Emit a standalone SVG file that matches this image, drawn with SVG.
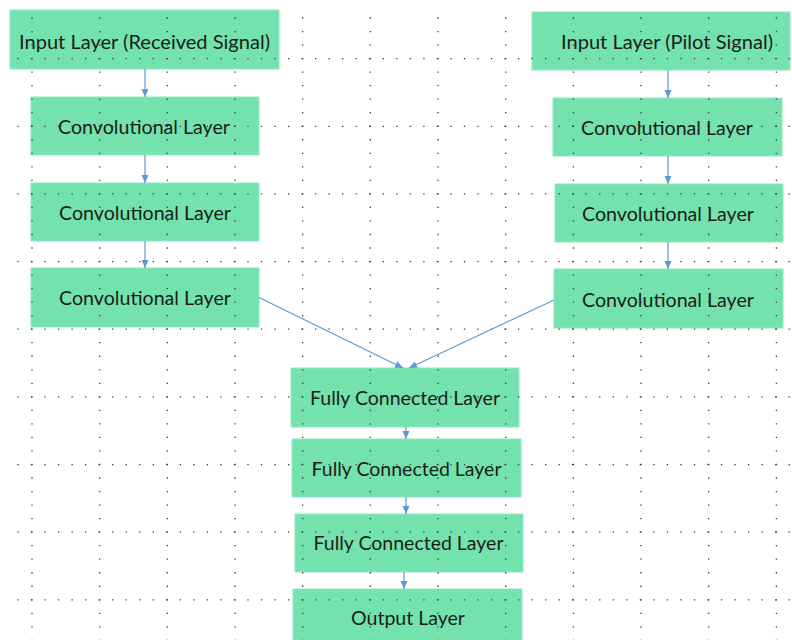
<svg xmlns="http://www.w3.org/2000/svg" width="792" height="640" viewBox="0 0 792 640">
<defs>
<style>
.box{fill:#73E2AD;stroke:#8FE9C0;stroke-width:1}
.lbl{font-family:Lato,"Liberation Sans",sans-serif;font-size:19.5px;fill:#1c1c1c;text-anchor:middle}
.conn{stroke:#5B9BD5;stroke-width:1.2;fill:none;marker-end:url(#ah)}
.gh{stroke:#3a3a3a;stroke-width:1.3;stroke-dasharray:1.3 12.23}
</style>
<marker id="ah" markerUnits="userSpaceOnUse" markerWidth="9" markerHeight="9" refX="8" refY="4" orient="auto">
<path d="M0,0.5 L8,4 L0,7.5 z" fill="#5B9BD5"/>
</marker>
</defs>
<rect width="792" height="640" fill="#ffffff"/>
<g id="in_rx"><rect class="box" x="10" y="10" width="269" height="59"/></g>
<g id="conv_l1"><rect class="box" x="31" y="97" width="228" height="58"/></g>
<g id="conv_l2"><rect class="box" x="31" y="183" width="228" height="58"/></g>
<g id="conv_l3"><rect class="box" x="31" y="268" width="228" height="59"/></g>
<g id="in_pilot"><rect class="box" x="532" y="12" width="258" height="58"/></g>
<g id="conv_r1"><rect class="box" x="553" y="98" width="229" height="58"/></g>
<g id="conv_r2"><rect class="box" x="555" y="184" width="228" height="58"/></g>
<g id="conv_r3"><rect class="box" x="554" y="269" width="229" height="59"/></g>
<g id="fc1"><rect class="box" x="291" y="368" width="228" height="59"/></g>
<g id="fc2"><rect class="box" x="292" y="439" width="229" height="58"/></g>
<g id="fc3"><rect class="box" x="295" y="514" width="228" height="58"/></g>
<g id="out"><rect class="box" x="293" y="589" width="229" height="55"/></g>
<g id="grid">
<line class="gh" x1="17.35" y1="58.6" x2="792" y2="58.6"/>
<line class="gh" x1="17.35" y1="126.3" x2="792" y2="126.3"/>
<line class="gh" x1="17.35" y1="193.9" x2="792" y2="193.9"/>
<line class="gh" x1="17.35" y1="261.6" x2="792" y2="261.6"/>
<line class="gh" x1="17.35" y1="329.2" x2="792" y2="329.2"/>
<line class="gh" x1="17.35" y1="396.9" x2="792" y2="396.9"/>
<line class="gh" x1="17.35" y1="464.6" x2="792" y2="464.6"/>
<line class="gh" x1="17.35" y1="532.2" x2="792" y2="532.2"/>
<line class="gh" x1="17.35" y1="599.9" x2="792" y2="599.9"/>
<line class="gh" x1="32" y1="17.35" x2="32" y2="640"/>
<line class="gh" x1="99.7" y1="17.35" x2="99.7" y2="640"/>
<line class="gh" x1="167.3" y1="17.35" x2="167.3" y2="640"/>
<line class="gh" x1="235" y1="17.35" x2="235" y2="640"/>
<line class="gh" x1="302.7" y1="17.35" x2="302.7" y2="640"/>
<line class="gh" x1="370.3" y1="17.35" x2="370.3" y2="640"/>
<line class="gh" x1="438" y1="17.35" x2="438" y2="640"/>
<line class="gh" x1="505.7" y1="17.35" x2="505.7" y2="640"/>
<line class="gh" x1="573.4" y1="17.35" x2="573.4" y2="640"/>
<line class="gh" x1="641" y1="17.35" x2="641" y2="640"/>
<line class="gh" x1="708.7" y1="17.35" x2="708.7" y2="640"/>
<line class="gh" x1="776.4" y1="17.35" x2="776.4" y2="640"/>
</g>
<g id="labels">
<text class="lbl" x="144.5" y="49.3" textLength="251" lengthAdjust="spacingAndGlyphs">Input Layer (Received Signal)</text>
<text class="lbl" x="144" y="133.5" textLength="172" lengthAdjust="spacingAndGlyphs">Convolutional Layer</text>
<text class="lbl" x="145" y="219.5" textLength="172" lengthAdjust="spacingAndGlyphs">Convolutional Layer</text>
<text class="lbl" x="145" y="305" textLength="172" lengthAdjust="spacingAndGlyphs">Convolutional Layer</text>
<text class="lbl" x="667" y="49.3" textLength="212" lengthAdjust="spacingAndGlyphs">Input Layer (Pilot Signal)</text>
<text class="lbl" x="667" y="135" textLength="172" lengthAdjust="spacingAndGlyphs">Convolutional Layer</text>
<text class="lbl" x="668" y="221" textLength="172" lengthAdjust="spacingAndGlyphs">Convolutional Layer</text>
<text class="lbl" x="668" y="306.5" textLength="172" lengthAdjust="spacingAndGlyphs">Convolutional Layer</text>
<text class="lbl" x="405" y="405" textLength="190" lengthAdjust="spacingAndGlyphs">Fully Connected Layer</text>
<text class="lbl" x="406.5" y="476" textLength="190" lengthAdjust="spacingAndGlyphs">Fully Connected Layer</text>
<text class="lbl" x="408.5" y="550" textLength="190" lengthAdjust="spacingAndGlyphs">Fully Connected Layer</text>
<text class="lbl" x="408" y="625" textLength="114" lengthAdjust="spacingAndGlyphs">Output Layer</text>
</g>
<g id="connectors">
<line class="conn" x1="145" y1="69" x2="145" y2="97"/>
<line class="conn" x1="145" y1="155" x2="145" y2="183"/>
<line class="conn" x1="145" y1="241" x2="145" y2="268"/>
<line class="conn" x1="668" y1="70" x2="668" y2="98"/>
<line class="conn" x1="668" y1="156" x2="668" y2="184"/>
<line class="conn" x1="668" y1="242" x2="668" y2="269"/>
<line class="conn" x1="259" y1="297.5" x2="403" y2="368"/>
<line class="conn" x1="554" y1="300" x2="409" y2="368"/>
<line class="conn" x1="406" y1="427" x2="406" y2="439"/>
<line class="conn" x1="406" y1="497" x2="406" y2="514"/>
<line class="conn" x1="404" y1="572" x2="404" y2="589"/>
</g>
</svg>
